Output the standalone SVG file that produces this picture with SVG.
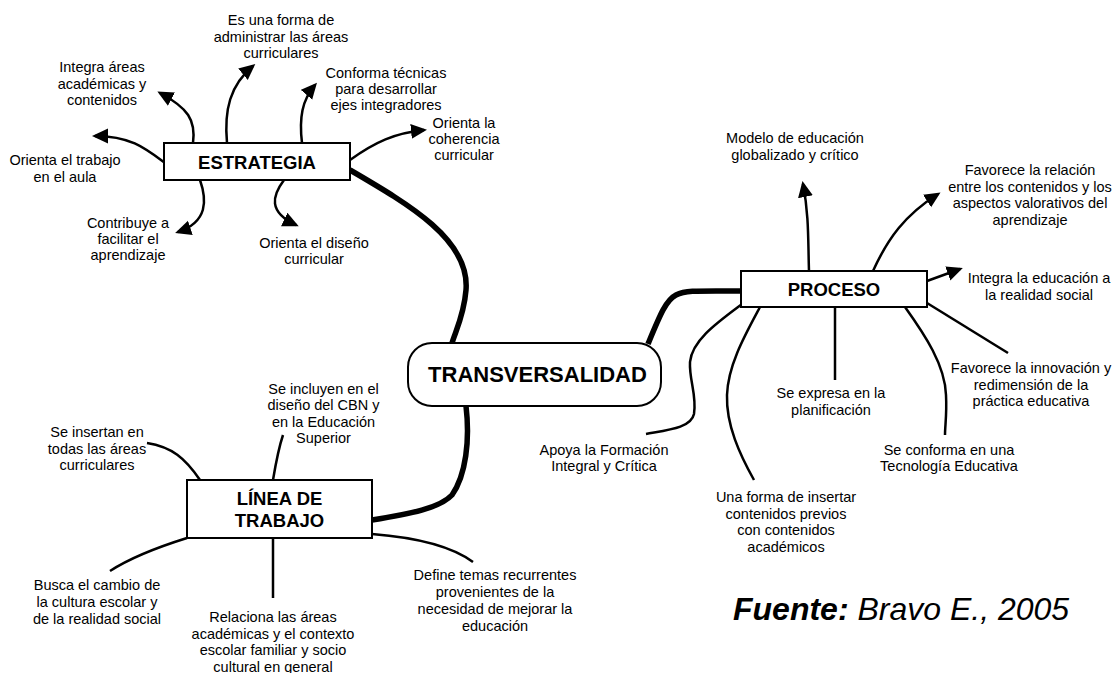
<svg xmlns="http://www.w3.org/2000/svg" width="1117" height="673" viewBox="0 0 1117 673">
<style>
.lbl{font-family:"Liberation Sans",Arial,sans-serif;font-size:14.5px;fill:#000;text-anchor:middle}
.box{fill:#fff;stroke:#000;stroke-width:2}
.bt{font-family:"Liberation Sans",Arial,sans-serif;font-size:18.5px;font-weight:bold;fill:#000;text-anchor:middle}
.thin{fill:none;stroke:#000;stroke-width:2.5}
.thick{fill:none;stroke:#000;stroke-width:5.5}
.arr{marker-end:url(#ah)}
</style>
<defs>
<marker id="ah" markerUnits="userSpaceOnUse" markerWidth="18" markerHeight="16" refX="13" refY="7.5" orient="auto">
<path d="M0,0 L16,7.5 L0,15 z" fill="#000"/>
</marker>
</defs>
<rect width="1117" height="673" fill="#fff"/>
<g id="connectors">
<path class="thick" d="M350,170 C410,205 470,240 466,290 C464,315 456,330 452,343"/>
<path class="thick" d="M648,344 C660,315 666,300 676,295 C686,290 700,291 741,291"/>
<path class="thick" d="M466,406 C470,440 466,475 452,495 C440,508 410,514 372,520"/>
<path class="thin arr" d="M193,143 C196,120 188,108 160,93"/>
<path class="thin arr" d="M227,143 C224,110 230,85 253,66"/>
<path class="thin arr" d="M302,143 C299,118 302,100 315,85"/>
<path class="thin arr" d="M350,160 C375,142 395,133 424,130"/>
<path class="thin arr" d="M165,163 C145,148 130,136 95,136"/>
<path class="thin arr" d="M200,180 C207,200 208,222 178,232"/>
<path class="thin arr" d="M284,180 C272,196 268,212 296,225"/>
<path class="thin arr" d="M809,271 C808,240 809,215 803,184"/>
<path class="thin arr" d="M873,271 C888,238 905,215 938,194"/>
<path class="thin arr" d="M927,281 L960,269"/>
<path class="thin" d="M742,304 C718,322 692,340 690,362 C689,380 697,395 694,414 C691,428 668,430 646,434"/>
<path class="thin" d="M760,307 C745,335 728,365 727,395 C726,425 740,455 754,480"/>
<path class="thin" d="M835,307 L835,380"/>
<path class="thin" d="M905,307 C925,335 945,365 946,395 C947,415 945,425 945,435"/>
<path class="thin" d="M927,303 L1008,353"/>
<path class="thin" d="M200,480 C185,458 172,447 147,443"/>
<path class="thin" d="M273,480 C276,462 279,447 283,435"/>
<path class="thin" d="M187,538 C155,548 130,558 110,571"/>
<path class="thin" d="M273,538 L273,598"/>
<path class="thin" d="M372,534 C410,537 450,545 473,562"/>
</g>
<g id="transversalidad">
<rect class="box" x="408" y="343" width="253" height="63" rx="24"/>
<text class="bt" x="537.5" y="382" style="font-size:22px">TRANSVERSALIDAD</text>
</g>
<g id="estrategia">
<rect class="box" x="164" y="143" width="186" height="37"/>
<text class="bt" x="257" y="168.5">ESTRATEGIA</text>
</g>
<g id="proceso">
<rect class="box" x="741" y="271" width="186" height="36"/>
<text class="bt" x="834" y="296">PROCESO</text>
</g>
<g id="linea">
<rect class="box" x="187" y="480" width="185" height="58"/>
<text class="bt" x="279.5" y="505">LÍNEA DE</text>
<text class="bt" x="279.5" y="527">TRABAJO</text>
</g>
<g id="e1"><text class="lbl" x="281" y="25">Es una forma de</text><text class="lbl" x="281" y="41.5">administrar las áreas</text><text class="lbl" x="281" y="58">curriculares</text></g>
<g id="e2"><text class="lbl" x="102" y="72">Integra áreas</text><text class="lbl" x="102" y="88.5">académicas y</text><text class="lbl" x="102" y="105">contenidos</text></g>
<g id="e3"><text class="lbl" x="386" y="78">Conforma técnicas</text><text class="lbl" x="386" y="94">para desarrollar</text><text class="lbl" x="386" y="110">ejes integradores</text></g>
<g id="e4"><text class="lbl" x="464" y="128">Orienta la</text><text class="lbl" x="464" y="144">coherencia</text><text class="lbl" x="464" y="160">curricular</text></g>
<g id="e5"><text class="lbl" x="65" y="165">Orienta el trabajo</text><text class="lbl" x="65" y="181.5">en el aula</text></g>
<g id="e6"><text class="lbl" x="128" y="228">Contribuye a</text><text class="lbl" x="128" y="244">facilitar el</text><text class="lbl" x="128" y="260">aprendizaje</text></g>
<g id="e7"><text class="lbl" x="314" y="248">Orienta el diseño</text><text class="lbl" x="314" y="264">curricular</text></g>
<g id="p1"><text class="lbl" x="795" y="143">Modelo de educación</text><text class="lbl" x="795" y="160">globalizado y crítico</text></g>
<g id="p2"><text class="lbl" x="1030" y="175">Favorece la relación</text><text class="lbl" x="1030" y="192">entre los contenidos y los</text><text class="lbl" x="1030" y="208">aspectos valorativos del</text><text class="lbl" x="1030" y="225">aprendizaje</text></g>
<g id="p3"><text class="lbl" x="1039" y="283">Integra la educación a</text><text class="lbl" x="1039" y="300">la realidad social</text></g>
<g id="p4"><text class="lbl" x="1031" y="373">Favorece la innovación y</text><text class="lbl" x="1031" y="390">redimensión de la</text><text class="lbl" x="1031" y="406">práctica educativa</text></g>
<g id="p5"><text class="lbl" x="949" y="455">Se conforma en una</text><text class="lbl" x="949" y="471">Tecnología Educativa</text></g>
<g id="p6"><text class="lbl" x="831" y="398">Se expresa en la</text><text class="lbl" x="831" y="415">planificación</text></g>
<g id="p7"><text class="lbl" x="786" y="502">Una forma de insertar</text><text class="lbl" x="786" y="518.5">contenidos previos</text><text class="lbl" x="786" y="535">con contenidos</text><text class="lbl" x="786" y="551.5">académicos</text></g>
<g id="p8"><text class="lbl" x="604" y="455">Apoya la Formación</text><text class="lbl" x="604" y="471">Integral y Crítica</text></g>
<g id="l1"><text class="lbl" x="97" y="437">Se insertan en</text><text class="lbl" x="97" y="454">todas las áreas</text><text class="lbl" x="97" y="470">curriculares</text></g>
<g id="l2"><text class="lbl" x="323.5" y="393.5">Se incluyen en el</text><text class="lbl" x="323.5" y="410">diseño del CBN y</text><text class="lbl" x="323.5" y="426.5">en la Educación</text><text class="lbl" x="323.5" y="443">Superior</text></g>
<g id="l3"><text class="lbl" x="97" y="590">Busca el cambio de</text><text class="lbl" x="97" y="607">la cultura escolar y</text><text class="lbl" x="97" y="624">de la realidad social</text></g>
<g id="l4"><text class="lbl" x="273" y="622">Relaciona las áreas</text><text class="lbl" x="273" y="638.5">académicas y el contexto</text><text class="lbl" x="273" y="655">escolar familiar y socio</text><text class="lbl" x="273" y="671.5">cultural en general</text></g>
<g id="l5"><text class="lbl" x="495" y="580">Define temas recurrentes</text><text class="lbl" x="495" y="597">provenientes de la</text><text class="lbl" x="495" y="614">necesidad de mejorar la</text><text class="lbl" x="495" y="631">educación</text></g>
<g id="fuente"><text x="733" y="620" style="font-family:'Liberation Sans',Arial,sans-serif;font-size:32px;font-style:italic;fill:#000"><tspan font-weight="bold">Fuente:</tspan> Bravo E., 2005</text></g>
</svg>
